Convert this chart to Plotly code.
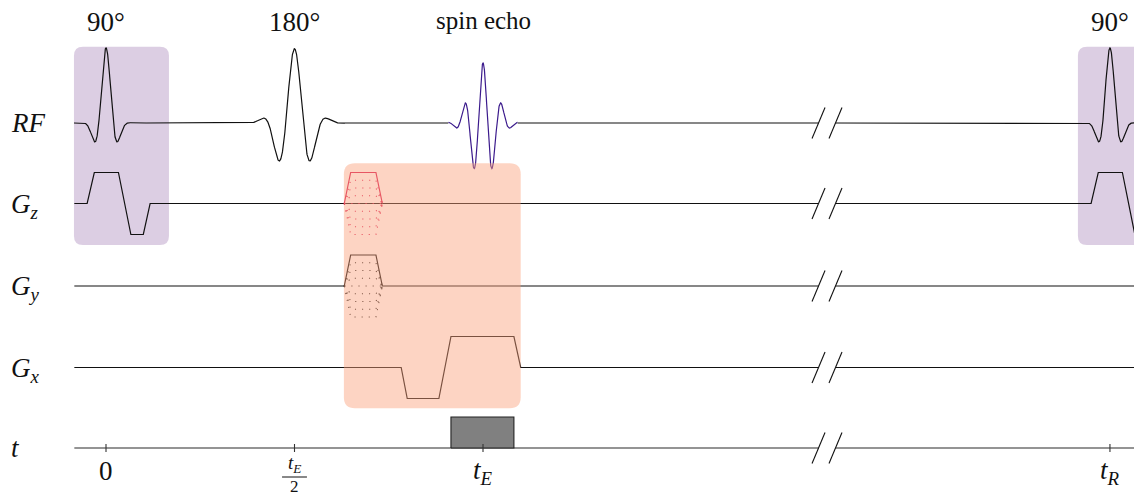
import numpy as np
import plotly.graph_objects as go

# ---------------------------------------------------------------- timing (ms)
T_ECHO = 10.0
T_REP = 26.63
TICK_TIMES = [0.0, T_ECHO / 2, T_ECHO, T_REP]
T_START = -0.84
BREAK_T = [18.9, 19.35]          # time axis is cut between these two instants

# ---------------------------------------------------------------- RF pulses
# Gaussian-windowed cosine pulses: centre, amplitude, half period, width, half window
RF_CENTRE = [0.0, T_ECHO / 2, T_REP]
RF_AMP = [1.0, 0.99, 1.0]
RF_HALF_PERIOD = [0.385, 0.464, 0.385]
RF_SIGMA = [0.284, 0.528, 0.284]
RF_HALF_WINDOW = [0.85, 1.33, 0.85]
RF_TITLES = ["90°", "180°", "90°"]

ECHO_CENTRE = T_ECHO
ECHO_AMP = 0.8
ECHO_HALF_PERIOD = 0.247
ECHO_SIGMA = 0.459
ECHO_HALF_WINDOW = 0.915

# ---------------------------------------------------------------- gradients
# slice select + rephaser, times relative to the excitation pulse
GZ_SS_T = [-0.50, -0.31, 0.33, 0.66, 0.99, 1.17]
GZ_SS_A = [0, 1, 1, -1, -1, 0]
# phase-encoding lobe and its table of steps
PE_T = [6.32, 6.49, 7.16, 7.33]
PE_A = [0, 1, 1, 0]
PE_STEPS = [-1.0, -0.75, -0.5, -0.25, 0.0, 0.25, 0.5, 0.75]
# read-out prephaser and read-out lobe
GX_T = [7.83, 7.99, 8.83, 9.15, 10.82, 11.0]
GX_A = [0, -1, -1, 1, 1, 0]
# acquisition window
ADC_T = [9.15, 10.82]

# ---------------------------------------------------------------- layout constants
W, H = 1134, 498
PX_PER_MS = 37.7
X0_PX = 106
X_RANGE = [-X0_PX / PX_PER_MS, (W - X0_PX) / PX_PER_MS]
T_END = X_RANGE[1] + 0.05
ROW = {"RF": 123.0, "Gz": 203.5, "Gy": 286.0, "Gx": 367.5, "t": 448.0}
RF_SCALE = 75.0
GRAD_SCALE = 31.0
ADC_HEIGHT = 31.0
LW = 1.2
BLACK = "#111111"
ECHO_COLOR = "#3b1a8c"
PE_COLOR = "#d81b50"
SERIF = "Liberation Serif"
FS = 27


def rf_shape(t, c, a, hp, s, hw):
    d = t - c
    v = a * np.cos(np.pi * d / hp) * np.exp(-(d / s) ** 2)
    return np.where(np.abs(d) <= hw, v, 0.0)


def split_line(times, amps, row):
    """Polyline for one gradient row, interrupted at the axis break."""
    out_x, out_y = [], []
    prev = None
    for t, a in zip(times, amps):
        if prev is not None and prev < BREAK_T[0] and t > BREAK_T[1]:
            out_x += [BREAK_T[0], None, BREAK_T[1]]
            out_y += [row, None, row]
        out_x.append(t)
        out_y.append(row - GRAD_SCALE * a)
        prev = t
    return out_x, out_y


fig = go.Figure()

# ---------------------------------------------------------------- RF row
tt = np.arange(T_START - 0.01, T_END, 0.004)
rf = np.zeros_like(tt)
for c, a, hp, s, hw in zip(RF_CENTRE, RF_AMP, RF_HALF_PERIOD, RF_SIGMA, RF_HALF_WINDOW):
    rf += rf_shape(tt, c, a, hp, s, hw)
hide = (np.abs(tt - ECHO_CENTRE) <= ECHO_HALF_WINDOW) | ((tt > BREAK_T[0]) & (tt < BREAK_T[1]))
rf_y = np.where(hide, np.nan, ROW["RF"] - RF_SCALE * rf)
fig.add_trace(go.Scatter(x=tt, y=rf_y, mode="lines", line=dict(color=BLACK, width=LW),
                         connectgaps=False, hoverinfo="skip"))

te = np.linspace(ECHO_CENTRE - ECHO_HALF_WINDOW, ECHO_CENTRE + ECHO_HALF_WINDOW, 400)
echo = rf_shape(te, ECHO_CENTRE, ECHO_AMP, ECHO_HALF_PERIOD, ECHO_SIGMA, ECHO_HALF_WINDOW + 1e-9)
fig.add_trace(go.Scatter(x=te, y=ROW["RF"] - RF_SCALE * echo, mode="lines",
                         line=dict(color=ECHO_COLOR, width=LW), hoverinfo="skip"))

# ---------------------------------------------------------------- Gz row
gz_t = [T_START] + GZ_SS_T + PE_T + [t + T_REP for t in GZ_SS_T] + [T_END]
gz_a = [0.0] + GZ_SS_A + [0, 0, 0, 0] + GZ_SS_A + [0.0]
gzx, gzy = split_line(gz_t, gz_a, ROW["Gz"])
fig.add_trace(go.Scatter(x=gzx, y=gzy, mode="lines", line=dict(color=BLACK, width=LW),
                         hoverinfo="skip"))

# phase-encoding table drawn dotted on Gz and Gy
for row, col in (("Gz", PE_COLOR), ("Gy", "#222222")):
    xs, ys = [], []
    for k in PE_STEPS:
        xs += PE_T + [None]
        ys += [ROW[row] - GRAD_SCALE * k * a for a in PE_A] + [None]
    fig.add_trace(go.Scatter(x=xs, y=ys, mode="lines",
                             line=dict(color=col, width=1.1, dash="1.1px,6px"),
                             hoverinfo="skip"))
fig.add_trace(go.Scatter(x=PE_T, y=[ROW["Gz"] - GRAD_SCALE * a for a in PE_A], mode="lines",
                         line=dict(color=PE_COLOR, width=LW), hoverinfo="skip"))

# ---------------------------------------------------------------- Gy row
gyx, gyy = split_line([T_START] + PE_T + [T_END], [0.0] + PE_A + [0.0], ROW["Gy"])
fig.add_trace(go.Scatter(x=gyx, y=gyy, mode="lines", line=dict(color=BLACK, width=LW),
                         hoverinfo="skip"))

# ---------------------------------------------------------------- Gx row
gxx, gxy = split_line([T_START] + GX_T + [T_END], [0.0] + GX_A + [0.0], ROW["Gx"])
fig.add_trace(go.Scatter(x=gxx, y=gxy, mode="lines", line=dict(color=BLACK, width=LW),
                         hoverinfo="skip"))

# ---------------------------------------------------------------- time row
tx, ty = split_line([T_START, T_END], [0, 0], ROW["t"])
fig.add_trace(go.Scatter(x=tx, y=ty, mode="lines", line=dict(color="#707070", width=1.6),
                         hoverinfo="skip"))
fig.add_trace(go.Scatter(
    x=[ADC_T[0], ADC_T[0], ADC_T[1], ADC_T[1], ADC_T[0]],
    y=[ROW["t"], ROW["t"] - ADC_HEIGHT, ROW["t"] - ADC_HEIGHT, ROW["t"], ROW["t"]],
    mode="lines", fill="toself", fillcolor="#808080",
    line=dict(color="#222222", width=1.1), hoverinfo="skip"))
tkx, tky = [], []
for t in TICK_TIMES:
    tkx += [t, t, None]
    tky += [ROW["t"] - 4, ROW["t"] + 4, None]
fig.add_trace(go.Scatter(x=tkx, y=tky, mode="lines", line=dict(color="#333333", width=1.1),
                         hoverinfo="skip"))

# ---------------------------------------------------------------- break marks
bx, byy = [], []
dx, dy = 6.5 / PX_PER_MS, 15.5
for r in ROW.values():
    for t in BREAK_T:
        bx += [t - dx, t + dx, None]
        byy += [r + dy, r - dy, None]
fig.add_trace(go.Scatter(x=bx, y=byy, mode="lines", line=dict(color=BLACK, width=1.1),
                         hoverinfo="skip"))


# ---------------------------------------------------------------- shaded blocks
def rrect(x0, x1, y0, y1, r):
    rx = r / PX_PER_MS
    return (f"M {x0 + rx},{y0} L {x1 - rx},{y0} Q {x1},{y0} {x1},{y0 + r} "
            f"L {x1},{y1 - r} Q {x1},{y1} {x1 - rx},{y1} L {x0 + rx},{y1} "
            f"Q {x0},{y1} {x0},{y1 - r} L {x0},{y0 + r} Q {x0},{y0} {x0 + rx},{y0} Z")


FRAC_Y = 477
shapes = []
for c in (0.0, T_REP):
    shapes.append(dict(type="path", path=rrect(c - 0.85, c + 1.67, 46.7, 245.0, 9),
                       xref="x", yref="y", fillcolor="#dccee3", line=dict(width=0),
                       layer="below"))
shapes.append(dict(type="path", path=rrect(6.31, 11.0, 163.3, 408.3, 11),
                   xref="x", yref="y", fillcolor="rgba(250,160,122,0.45)",
                   line=dict(width=0), layer="above"))
# fraction bar of t_E/2
shapes.append(dict(type="line", x0=T_ECHO / 2 - 0.33, x1=T_ECHO / 2 + 0.33,
                   y0=FRAC_Y, y1=FRAC_Y, xref="x", yref="y",
                   line=dict(color=BLACK, width=1)))

# ---------------------------------------------------------------- text
ann = []


def text(x, y, s, size=FS, xref="x", xanchor="center", yanchor="middle"):
    ann.append(dict(x=x, y=y, xref=xref, yref="y", text=s, showarrow=False,
                    xanchor=xanchor, yanchor=yanchor,
                    font=dict(family=SERIF, size=size, color=BLACK)))


for c, s in zip(RF_CENTRE, RF_TITLES):
    text(c, 22, s)
text(ECHO_CENTRE, 20, "spin echo", size=25)

lab_x = 9 / W
text(lab_x, ROW["RF"], "<i>RF</i>", xref="paper", xanchor="left")
text(lab_x, ROW["Gz"] + 2, "<i>G</i><sub><i>z</i></sub>", xref="paper", xanchor="left")
text(lab_x, ROW["Gy"] + 2, "<i>G</i><sub><i>y</i></sub>", xref="paper", xanchor="left")
text(lab_x, ROW["Gx"] + 2, "<i>G</i><sub><i>x</i></sub>", xref="paper", xanchor="left")
text(lab_x, ROW["t"], "<i>t</i>", xref="paper", xanchor="left")

text(TICK_TIMES[0], 471, "0")
text(TICK_TIMES[1], FRAC_Y + 1, "<i>t</i><sub><i>E</i></sub>", size=19, yanchor="bottom")
text(TICK_TIMES[1], FRAC_Y + 9, "2", size=17)
text(TICK_TIMES[2], 472, "<i>t</i><sub><i>E</i></sub>")
text(TICK_TIMES[3], 472, "<i>t</i><sub><i>R</i></sub>")

fig.update_layout(
    width=W, height=H, margin=dict(l=0, r=0, t=0, b=0),
    paper_bgcolor="white", plot_bgcolor="white", showlegend=False,
    xaxis=dict(range=X_RANGE, visible=False, fixedrange=True),
    yaxis=dict(range=[H, 0], visible=False, fixedrange=True),
    shapes=shapes, annotations=ann,
)
fig.write_html("out.html")
